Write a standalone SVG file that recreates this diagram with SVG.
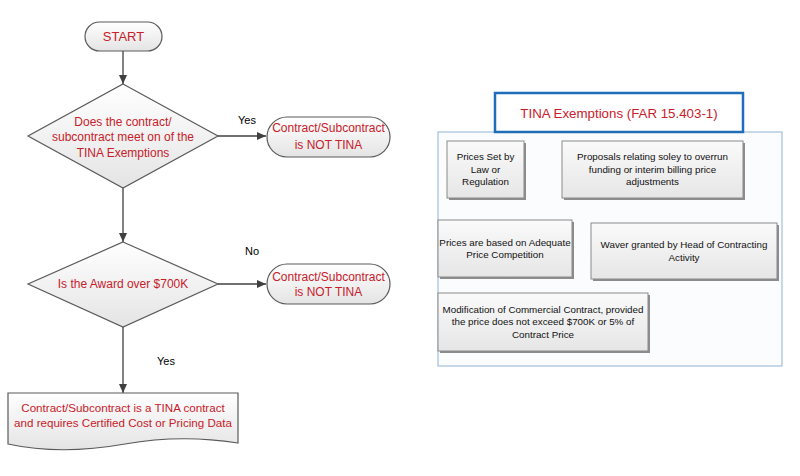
<svg xmlns="http://www.w3.org/2000/svg" width="800" height="476" viewBox="0 0 800 476">
<defs>
<linearGradient id="g" x1="0" y1="0" x2="0" y2="1"><stop offset="0" stop-color="#ffffff"/><stop offset="1" stop-color="#e4e4e4"/></linearGradient>
<linearGradient id="gb" x1="0" y1="0" x2="0" y2="1"><stop offset="0" stop-color="#fafafa"/><stop offset="1" stop-color="#e6e6e6"/></linearGradient>
<marker id="ah" markerWidth="10" markerHeight="10" refX="9" refY="5" orient="auto" markerUnits="userSpaceOnUse"><path d="M0,1 L9,5 L0,9 Z" fill="#404040"/></marker>
</defs>
<style>
.sh{fill:url(#g);stroke:#5a5a5a;stroke-width:1.2}
.t{font-family:"Liberation Sans",Arial,sans-serif;fill:#c8202a;text-anchor:middle;font-size:12px}
.k{font-family:"Liberation Sans",Arial,sans-serif;fill:#000;font-size:11px;text-anchor:middle}
.bx{fill:url(#gb);stroke:#8a8a8a;stroke-width:1}
.sd{fill:#8c8c8c}
.bt{font-family:"Liberation Sans",Arial,sans-serif;fill:#111;font-size:9.8px;text-anchor:middle}
.c{stroke:#404040;stroke-width:1.3;fill:none;marker-end:url(#ah)}
</style>
<rect width="800" height="476" fill="#fff"/>
<g id="connectors">
<line class="c" x1="123" y1="51" x2="123" y2="84"/>
<line class="c" x1="218" y1="136" x2="266" y2="136"/>
<line class="c" x1="123" y1="188" x2="123" y2="242"/>
<line class="c" x1="218" y1="284" x2="266" y2="284"/>
<line class="c" x1="123" y1="327" x2="123" y2="393"/>
<text class="k" x="247" y="124">Yes</text>
<text class="k" x="252" y="255">No</text>
<text class="k" x="166" y="365">Yes</text>
</g>
<g id="start">
<rect class="sh" x="85" y="22" width="77" height="29" rx="14.5"/>
<text class="t" x="123.5" y="41" style="font-size:13px">START</text>
</g>
<g id="decision1">
<polygon class="sh" points="123,84 218,136 123,188 28,136"/>
<text class="t" x="123" y="126">Does the contract/</text>
<text class="t" x="123" y="141">subcontract meet on of the</text>
<text class="t" x="123" y="157">TINA Exemptions</text>
</g>
<g id="nottina1">
<rect class="sh" x="267" y="117" width="123" height="40" rx="20"/>
<text class="t" x="328.5" y="132">Contract/Subcontract</text>
<text class="t" x="328.5" y="149">is NOT TINA</text>
</g>
<g id="decision2">
<polygon class="sh" points="123,242 218,284 123,327 28,284"/>
<text class="t" x="123" y="288">Is the Award over $700K</text>
</g>
<g id="nottina2">
<rect class="sh" x="267" y="264" width="123" height="40" rx="20"/>
<text class="t" x="328.5" y="281">Contract/Subcontract</text>
<text class="t" x="328.5" y="296">is NOT TINA</text>
</g>
<g id="tina">
<path class="sh" d="M8,393 L238,393 L238,443 C205,438 170,436 125,444 C80,452 40,451 8,444 Z"/>
<text class="t" x="123" y="412" style="font-size:11.6px">Contract/Subcontract is a TINA contract</text>
<text class="t" x="123" y="427" style="font-size:11.6px">and requires Certified Cost or Pricing Data</text>
</g>
<g id="exemptions">
<rect x="438" y="132" width="344" height="234" fill="#fbfcfd" stroke="#8fb3d6" stroke-width="1"/>
<rect x="495" y="93" width="248" height="39" fill="#fff" stroke="#1f6cb8" stroke-width="2.5"/>
<text class="t" x="619" y="118" style="font-size:13.3px">TINA Exemptions (FAR 15.403-1)</text>
</g>
<g id="ex1">
<rect class="sd" x="449" y="143" width="77" height="57"/>
<rect class="bx" x="447" y="141" width="77" height="57"/>
<text class="bt" x="485.5" y="160">Prices Set by</text>
<text class="bt" x="485.5" y="173">Law or</text>
<text class="bt" x="485.5" y="185">Regulation</text>
</g>
<g id="ex2">
<rect class="sd" x="564" y="143" width="181" height="57"/>
<rect class="bx" x="562" y="141" width="181" height="57"/>
<text class="bt" x="652.5" y="160">Proposals relating soley to overrun</text>
<text class="bt" x="652.5" y="173">funding or interim billing price</text>
<text class="bt" x="652.5" y="185">adjustments</text>
</g>
<g id="ex3">
<rect class="sd" x="440" y="222" width="134" height="57"/>
<rect class="bx" x="438" y="220" width="134" height="57"/>
<text class="bt" x="505" y="246">Prices are based on Adequate</text>
<text class="bt" x="505" y="258">Price Competition</text>
</g>
<g id="ex4">
<rect class="sd" x="593" y="225" width="186" height="56"/>
<rect class="bx" x="591" y="223" width="186" height="56"/>
<text class="bt" x="684" y="248">Waver granted by Head of Contracting</text>
<text class="bt" x="684" y="261">Activity</text>
</g>
<g id="ex5">
<rect class="sd" x="440" y="295" width="210" height="58"/>
<rect class="bx" x="438" y="293" width="210" height="58"/>
<text class="bt" x="543" y="313">Modification of Commercial Contract, provided</text>
<text class="bt" x="543" y="325">the price does not exceed $700K or 5% of</text>
<text class="bt" x="543" y="338">Contract Price</text>
</g>
</svg>
